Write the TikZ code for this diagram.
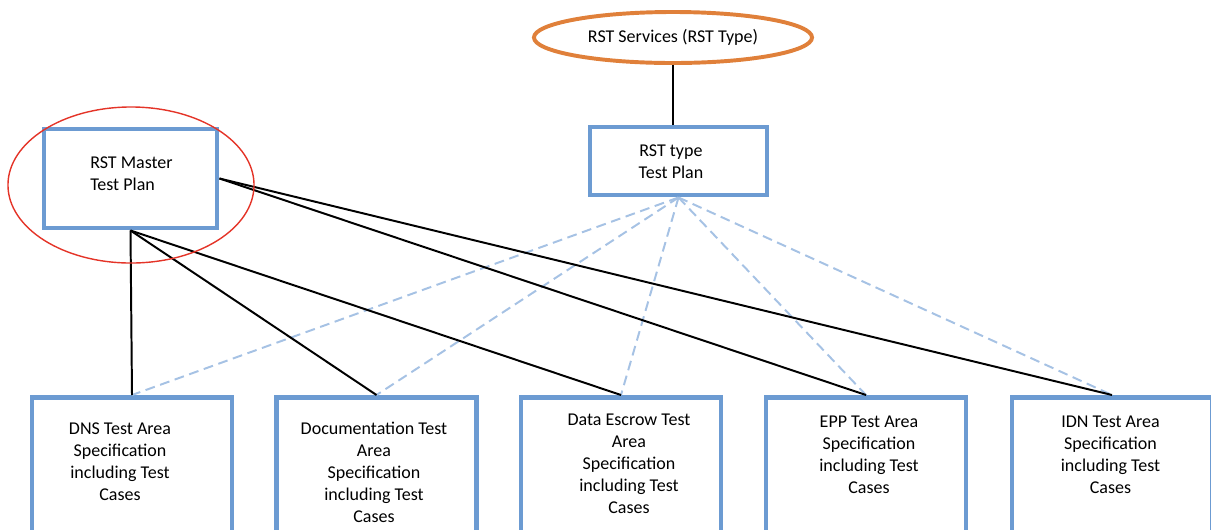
\documentclass[tikz,border=0pt]{standalone}
\usepackage{fontspec}
\setmainfont{Carlito}
\usetikzlibrary{shapes.geometric}
\definecolor{boxblue}{RGB}{108,155,210}
\definecolor{dashblue}{RGB}{166,194,228}
\definecolor{ringorange}{RGB}{224,128,58}
\definecolor{ringred}{RGB}{228,52,40}
\begin{document}
\begin{tikzpicture}[x=0.025cm,y=-0.025cm,
    plan/.style={draw=boxblue,line width=3.5pt,fill=white,inner sep=0pt},
    area/.style={plan,anchor=north,minimum width=5cm,minimum height=4cm},
    service/.style={ellipse,draw=ringorange,line width=2.8pt,fill=white,
        minimum width=6.95cm,minimum height=1.275cm,inner sep=0pt,txt},
    txt/.style={font=\fontsize{12.8}{15.6}\selectfont,align=center,inner sep=0pt},
    link/.style={black,line width=1.4pt},
    weak/.style={dashblue,line width=1.4pt,dash pattern=on 7pt off 4pt}]
    \clip (0,0) rectangle (1211,529);
    % top part
    \node[service] (services) at (673,37.5) {RST Services (RST Type)};
    \node[plan,minimum width=4.425cm,minimum height=1.7cm] (type) at (678.5,161) {};
    \node[plan,minimum width=4.325cm,minimum height=2.475cm] (master) at (130.5,178.5) {};
    \node[txt] (typetext) at (671,162) {RST type\\Test Plan};
    \node[txt,anchor=west,align=left] (mastertext) at (90,173.5) {RST Master\\Test Plan};
    % test areas
    \node[area] (dns) at (132,395) {};
    \node[area] (doc) at (376.5,395) {};
    \node[area] (escrow) at (621,395) {};
    \node[area] (epp) at (866,395) {};
    \node[area] (idn) at (1112,395) {};
    \node[txt] (dnstext) at (120,462) {DNS Test Area\\Specification\\including Test\\Cases};
    \node[txt] (doctext) at (374,472.5) {Documentation Test\\Area\\Specification\\including Test\\Cases};
    \node[txt] (escrowtext) at (629,464) {Data Escrow Test\\Area\\Specification\\including Test\\Cases};
    \node[txt] (epptext) at (869,455) {EPP Test Area\\Specification\\including Test\\Cases};
    \node[txt] (idntext) at (1110.5,455) {IDN Test Area\\Specification\\including Test\\Cases};
    % connectors
    \draw[link] (services.south) -- (services.south |- type.north);
    \foreach \b in {dns,doc,escrow,epp,idn}
        \draw[weak] (type.south) -- (\b.north);
    \foreach \b in {dns,doc,escrow}
        \draw[link] (master.south) -- (\b.north);
    \foreach \b in {epp,idn}
        \draw[link] (master.east) -- (\b.north);
    \draw[ringred,line width=1pt] (131,185) ellipse [x radius=3.075cm,y radius=1.95cm];
\end{tikzpicture}
\end{document}
